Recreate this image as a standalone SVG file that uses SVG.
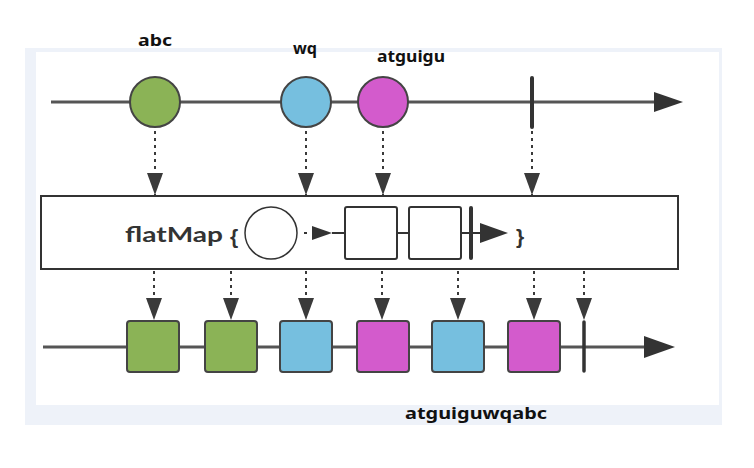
<svg xmlns="http://www.w3.org/2000/svg" width="754" height="468" viewBox="0 0 754 468">
<defs>
<style>
.lbl{font-family:"Noto Sans","Liberation Sans",sans-serif;font-weight:bold;font-size:16px;fill:#111}
.axis{stroke:#555;stroke-width:3;fill:none}
.dot{stroke:#3a3a3a;stroke-width:2;stroke-dasharray:3 4;fill:none}
.ev{stroke:#444;stroke-width:2}
.g{fill:#8bb356}.b{fill:#76bfdf}.m{fill:#d35bcc}
.bar{stroke:#333;stroke-width:4;stroke-linecap:round}
.ink{stroke:#333;stroke-width:2;fill:#fff}
.head{fill:#333}
.fm{font-family:Lato,"Liberation Sans",sans-serif;font-weight:bold;font-size:21px;fill:#333}
.br{font-family:"Liberation Sans",sans-serif;font-weight:bold;font-size:21px;fill:#333}
</style>
<marker id="ah" markerUnits="userSpaceOnUse" markerWidth="22" markerHeight="16" refX="22" refY="8" orient="auto">
<path d="M0,0 L22,8 L0,16 Z" fill="#3a3a3a"/>
</marker>
</defs>
<rect x="0" y="0" width="754" height="468" fill="#fff"/>
<rect x="25" y="48" width="697" height="377" fill="#eef2f9"/>
<rect x="36" y="52" width="683" height="353" fill="#fff"/>

<g id="top-axis">
<line class="axis" x1="51" y1="102" x2="656" y2="102"/>
<path class="head" d="M654,92 L683,102 L654,112 Z"/>
<line class="bar" x1="532" y1="78" x2="532" y2="127"/>
</g>
<g id="node-abc">
<circle class="ev g" cx="155" cy="102" r="25"/>
<text class="lbl" x="138" y="46" textLength="34" lengthAdjust="spacingAndGlyphs">abc</text>
</g>
<g id="node-wq">
<circle class="ev b" cx="306" cy="102" r="25"/>
<text class="lbl" x="293" y="54" textLength="24" lengthAdjust="spacingAndGlyphs">wq</text>
</g>
<g id="node-atguigu">
<circle class="ev m" cx="383" cy="102" r="25"/>
<text class="lbl" x="377" y="62" textLength="68" lengthAdjust="spacingAndGlyphs">atguigu</text>
</g>

<g id="flatmap-box">
<rect class="ink" x="41" y="196" width="637" height="73"/>
<text class="fm" x="125" y="242" textLength="98" lengthAdjust="spacingAndGlyphs">flatMap</text>
<text class="br" x="230" y="244">{</text>
<circle cx="271" cy="233" r="26" fill="#fff" stroke="#333" stroke-width="1.5"/>
<line x1="304" y1="233" x2="307" y2="233" stroke="#333" stroke-width="2"/>
<path class="head" d="M312,226 L332,233 L312,240 Z"/>
<line x1="332" y1="233" x2="345" y2="233" stroke="#333" stroke-width="2"/>
<rect class="ink" x="345" y="207" width="52" height="52" rx="2"/>
<line x1="397" y1="233" x2="409" y2="233" stroke="#333" stroke-width="2"/>
<rect class="ink" x="409" y="207" width="52" height="52" rx="2"/>
<line x1="461" y1="233" x2="480" y2="233" stroke="#333" stroke-width="2"/>
<line class="bar" x1="471" y1="208" x2="471" y2="258"/>
<path class="head" d="M480,223 L508,233 L480,243 Z"/>
<text class="br" x="516" y="244">}</text>
</g>

<g id="bottom-axis">
<line class="axis" x1="43" y1="347" x2="646" y2="347"/>
<path class="head" d="M644,336 L675,347 L644,358 Z"/>
<line class="bar" x1="584" y1="322" x2="584" y2="371" style="stroke-width:3.5"/>
</g>
<g id="out-1"><rect class="ev g" x="127" y="321" width="52" height="51" rx="3"/></g>
<g id="out-2"><rect class="ev g" x="205" y="321" width="52" height="51" rx="3"/></g>
<g id="out-3"><rect class="ev b" x="280" y="321" width="52" height="51" rx="3"/></g>
<g id="out-4"><rect class="ev m" x="357" y="321" width="52" height="51" rx="3"/></g>
<g id="out-5"><rect class="ev b" x="432" y="321" width="52" height="51" rx="3"/></g>
<g id="out-6"><rect class="ev m" x="508" y="321" width="52" height="51" rx="3"/></g>
<g id="result-label">
<text class="lbl" x="405" y="419" textLength="142" lengthAdjust="spacingAndGlyphs">atguiguwqabc</text>
</g>

<g id="connectors">
<line class="dot" x1="155" y1="131" x2="155" y2="195" marker-end="url(#ah)"/>
<line class="dot" x1="306" y1="131" x2="306" y2="195" marker-end="url(#ah)"/>
<line class="dot" x1="383" y1="131" x2="383" y2="195" marker-end="url(#ah)"/>
<line class="dot" x1="532" y1="131" x2="532" y2="195" marker-end="url(#ah)"/>
<line class="dot" x1="154" y1="271" x2="154" y2="320" marker-end="url(#ah)"/>
<line class="dot" x1="231" y1="271" x2="231" y2="320" marker-end="url(#ah)"/>
<line class="dot" x1="306" y1="271" x2="306" y2="320" marker-end="url(#ah)"/>
<line class="dot" x1="382" y1="271" x2="382" y2="320" marker-end="url(#ah)"/>
<line class="dot" x1="458" y1="271" x2="458" y2="320" marker-end="url(#ah)"/>
<line class="dot" x1="534" y1="271" x2="534" y2="320" marker-end="url(#ah)"/>
<line class="dot" x1="584" y1="271" x2="584" y2="320" marker-end="url(#ah)"/>
</g>
</svg>
